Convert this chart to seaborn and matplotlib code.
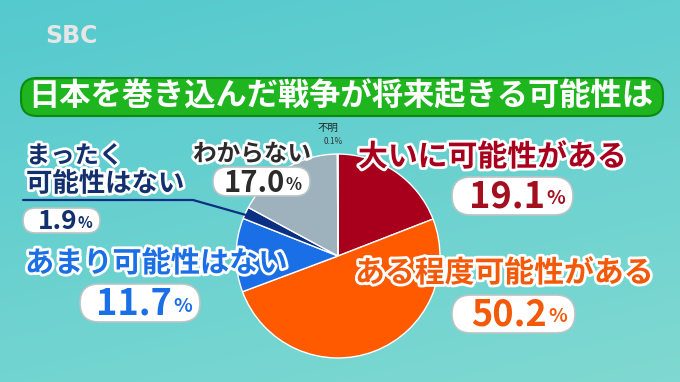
import numpy as np
import matplotlib
matplotlib.use("Agg")
import matplotlib.pyplot as plt
import matplotlib.patheffects as pe
from matplotlib.patches import FancyBboxPatch
from matplotlib.transforms import Affine2D
import seaborn as sns

# ---- data ----
categories = ['大いに可能性がある', 'ある程度可能性がある', 'あまり可能性はない',
              'まったく可能性はない', 'わからない', '不明']
values = [19.1, 50.2, 11.7, 1.9, 17.0, 0.1]
colors = ['#A8001C', '#FF5A00', '#1B6FE6', '#0B2F82', '#9EB2BE', '#C8C8C8']
title = '日本を巻き込んだ戦争が将来起きる可能性は'

sns.set_theme(style='white')
plt.rcParams['font.family'] = ['Noto Sans CJK JP', 'DejaVu Sans']

W, H = 680, 382
fig = plt.figure(figsize=(W / 100, H / 100), dpi=100)
PX = Affine2D().scale(1 / 100, -1 / 100).translate(0, H / 100) + fig.dpi_scale_trans

# background gradient
bg = fig.add_axes([0, 0, 1, 1], zorder=-10)
yy, xx = np.mgrid[0:1:200j, 0:1:300j]
top = np.array([0.33, 0.79, 0.81])
bot = np.array([0.50, 0.85, 0.82])
t = (0.7 * yy + 0.3 * xx)[..., None]
img = top * (1 - t) + bot * t
bg.imshow(img, aspect='auto', extent=[0, 1, 0, 1], origin='upper')
bg.set_axis_off()

# pie
cx, cy, r = 338, 256, 104
ax = fig.add_axes([(cx - r) / W, (H - cy - r) / H, 2 * r / W, 2 * r / H])
ax.pie(values, colors=colors, startangle=90, counterclock=False, radius=1,
       wedgeprops=dict(edgecolor='white', linewidth=1.0))
ax.set_xlim(-1.02, 1.02)
ax.set_ylim(-1.02, 1.02)
ax.set_aspect('equal')
ax.set_axis_off()

# logo
fig.text(45, 36, 'SBC', transform=PX, ha='left', va='center', fontsize=17,
         fontweight='bold', color='#e6e6e6', family=['DejaVu Sans'])

# title bar
fig.patches.append(FancyBboxPatch((21, 78), 642, 38, transform=PX,
                                  boxstyle='round,pad=0,rounding_size=16',
                                  fc='#1FB51F', ec='#0C8A10', lw=1.5, zorder=2))
fig.text(341, 97, title, transform=PX, ha='center', va='center', fontsize=22.5,
         fontweight='bold', color='white', zorder=3)

outline = [pe.withStroke(linewidth=4, foreground='white')]


def label(x, y, s, size, color, stroke=True, ha='left'):
    fig.text(x, y, s, transform=PX, ha=ha, va='center', fontsize=size,
             fontweight='bold', color=color,
             path_effects=outline if stroke else None, zorder=5)


def numbox(x0, y0, x1, y1, num, color, size, psize, pw):
    fig.patches.append(FancyBboxPatch((x0, y0), x1 - x0, y1 - y0, transform=PX,
                                      boxstyle='round,pad=0,rounding_size=%f' % ((y1 - y0) / 2),
                                      fc='white', ec='#b9c4c4', lw=1.2, zorder=4))
    ym = (y0 + y1) / 2
    xs = x1 - 7 - pw
    fig.text(xs - 1, ym + 1, num, transform=PX, ha='right', va='center',
             fontsize=size, fontweight='bold', color=color, zorder=6)
    fig.text(xs, ym + 3, '%', transform=PX, ha='left', va='center',
             fontsize=psize, fontweight='bold', color=color, zorder=6)


# labels
label(358, 157, categories[0], 21.5, '#A8001C')
numbox(452, 177, 573, 215, f'{values[0]:.1f}', '#A30F1E', 26, 14, 20)

label(355, 273, categories[1], 21.5, '#F25A0A')
numbox(452, 295, 575, 333, f'{values[1]:.1f}', '#F25A0A', 26, 14, 20)

label(25, 263, categories[2], 21, '#1B6FE6')
numbox(80, 284, 200, 322, f'{values[2]:.1f}', '#1B6FE6', 26, 14, 20)

label(26, 156, 'まったく', 17.5, '#12306E')
label(26, 184, '可能性はない', 19, '#12306E')
fig.lines.append(plt.Line2D([23, 193, 246], [200, 200, 215], transform=PX,
                            color='#0B2F82', lw=1.6, zorder=4))
numbox(23, 208, 100, 233, f'{values[3]:.1f}', '#12306E', 19, 11, 15)

label(193, 154, categories[4], 17, '#2b2b2b')
numbox(213, 167, 310, 196, f'{values[4]:.1f}', '#2b2b2b', 21, 12, 17)

fig.text(328, 128, categories[5], transform=PX, ha='center', va='center',
         fontsize=7.5, color='#222222', zorder=5)
fig.text(333, 142, f'{values[5]:.1f}%', transform=PX, ha='center', va='center',
         fontsize=6, color='#333333', zorder=5)

fig.savefig('out.png', dpi=100)
